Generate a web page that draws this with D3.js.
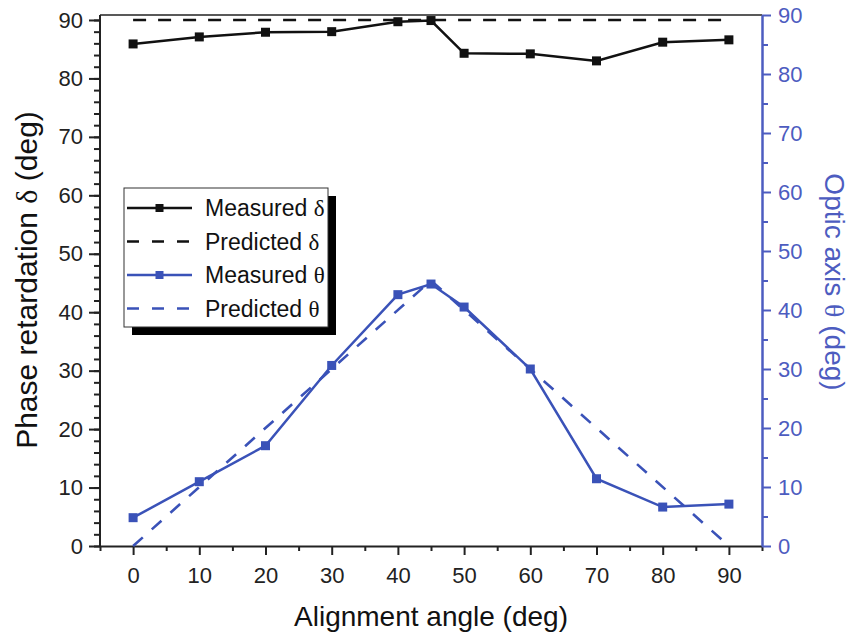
<!DOCTYPE html>
<html>
<head>
<meta charset="utf-8">
<script src="https://cdn.jsdelivr.net/npm/d3@7"></script>
<style>
  body { margin: 0; background: #fff; }
  text { font-family: "Liberation Sans", Arial, sans-serif; }
</style>
</head>
<body>
<script>
// data
const angles = [0, 10, 20, 30, 40, 45, 50, 60, 70, 80, 90];
const measuredDelta = [85.9, 87.1, 87.9, 88.0, 89.7, 89.9, 84.3, 84.2, 83.0, 86.2, 86.6];
const measuredTheta = [4.8, 10.9, 17.0, 30.6, 42.6, 44.4, 40.5, 30.0, 11.4, 6.6, 7.1];
const predDeltaAngles = [0, 90];
const predictedDelta = [90, 90];
const predThetaAngles = [0, 45, 90];
const predictedTheta = [0, 45, 0];
const xTicks = [0, 10, 20, 30, 40, 50, 60, 70, 80, 90];
const yTicks = [0, 10, 20, 30, 40, 50, 60, 70, 80, 90];
const legendLabels = ["Measured δ", "Predicted δ", "Measured θ", "Predicted θ"];

var width = 851, height = 639;
var mLeft = 100, mRight = 762, mTop = 15, mBottom = 546;
var blue = "#3a52b8", axisBlue = "#4d5cc0";
var font = "'Liberation Sans', Arial, sans-serif";

var svg = d3.select("body").append("svg")
    .attr("width", width)
    .attr("height", height);

var x = d3.scaleLinear().domain([-5, 95]).range([mLeft, mRight]);
var yL = d3.scaleLinear().domain([0, 90.85]).range([mBottom, mTop]);
var yR = d3.scaleLinear().domain([0, 90]).range([mBottom, mTop]);

// frame top line
svg.append("line")
    .attr("x1", mLeft).attr("x2", mRight)
    .attr("y1", mTop).attr("y2", mTop)
    .attr("stroke", "#222").attr("stroke-width", 1.5);

// bottom axis: minor then major
svg.append("g")
    .attr("transform", "translate(0," + mBottom + ")")
    .call(d3.axisBottom(x).tickValues(d3.range(-5, 96, 10)).tickSize(5).tickFormat("").tickSizeOuter(0))
    .call(g => g.select(".domain").remove())
    .call(g => g.selectAll("line").attr("stroke", "#222").attr("stroke-width", 2));
var xAxis = svg.append("g")
    .attr("transform", "translate(0," + mBottom + ")")
    .call(d3.axisBottom(x).tickValues(xTicks).tickSize(9).tickSizeOuter(0).tickPadding(12));
xAxis.select(".domain").attr("stroke", "#222").attr("stroke-width", 2);
xAxis.selectAll("line").attr("stroke", "#222").attr("stroke-width", 2);
xAxis.selectAll("text").attr("font-size", 22).attr("fill", "#222").attr("font-family", font);

// left axis
svg.append("g")
    .attr("transform", "translate(" + mLeft + ",0)")
    .call(d3.axisLeft(yL).tickValues(d3.range(0, 91, 2)).tickSize(6).tickFormat("").tickSizeOuter(0))
    .call(g => g.select(".domain").remove())
    .call(g => g.selectAll("line").attr("stroke", "#222").attr("stroke-width", 2));
var yAxisL = svg.append("g")
    .attr("transform", "translate(" + mLeft + ",0)")
    .call(d3.axisLeft(yL).tickValues(yTicks).tickSize(11).tickSizeOuter(0).tickPadding(6));
yAxisL.select(".domain").attr("stroke", "#222").attr("stroke-width", 2)
    .attr("d", "M0," + mTop + "V" + mBottom);
yAxisL.selectAll("line").attr("stroke", "#222").attr("stroke-width", 2);
yAxisL.selectAll("text").attr("font-size", 22).attr("fill", "#222").attr("font-family", font);

// right axis (blue)
svg.append("g")
    .attr("transform", "translate(" + mRight + ",0)")
    .call(d3.axisRight(yR).tickValues(d3.range(5, 90, 10)).tickSize(6).tickFormat("").tickSizeOuter(0))
    .call(g => g.select(".domain").remove())
    .call(g => g.selectAll("line").attr("stroke", axisBlue).attr("stroke-width", 2));
var yAxisR = svg.append("g")
    .attr("transform", "translate(" + mRight + ",0)")
    .call(d3.axisRight(yR).tickValues(yTicks).tickSize(9).tickSizeOuter(0).tickPadding(7));
yAxisR.select(".domain").attr("stroke", axisBlue).attr("stroke-width", 2.5);
yAxisR.selectAll("line").attr("stroke", axisBlue).attr("stroke-width", 2);
yAxisR.selectAll("text").attr("font-size", 22).attr("fill", axisBlue).attr("font-family", font);

// axis titles
svg.append("text")
    .attr("x", 431).attr("y", 626)
    .attr("text-anchor", "middle")
    .attr("font-size", 28).attr("fill", "#111")
    .text("Alignment angle (deg)");

var tL = svg.append("text")
    .attr("transform", "translate(37,280) rotate(-90)")
    .attr("text-anchor", "middle")
    .attr("font-size", 30).attr("fill", "#111");
tL.append("tspan").text("Phase retardation ");
tL.append("tspan").attr("font-family", "'Liberation Serif', serif").text("δ");
tL.append("tspan").text(" (deg)");

var tR = svg.append("text")
    .attr("transform", "translate(825,282) rotate(90)")
    .attr("text-anchor", "middle")
    .attr("font-size", 28).attr("fill", axisBlue);
tR.append("tspan").text("Optic axis ");
tR.append("tspan").attr("font-family", "'Liberation Serif', serif").text("θ");
tR.append("tspan").text(" (deg)");

// data lines
var lineL = d3.line().x(d => x(d[0])).y(d => yL(d[1]));
var lineR = d3.line().x(d => x(d[0])).y(d => yR(d[1]));

svg.append("path")
    .attr("d", lineL(d3.zip(predDeltaAngles, predictedDelta)))
    .attr("fill", "none").attr("stroke", "#111").attr("stroke-width", 2.6)
    .attr("stroke-dasharray", "13,12");

svg.append("path")
    .attr("d", lineR(d3.zip(predThetaAngles, predictedTheta)))
    .attr("fill", "none").attr("stroke", blue).attr("stroke-width", 2.6)
    .attr("stroke-dasharray", "13,12");

svg.append("path")
    .attr("d", lineL(d3.zip(angles, measuredDelta)))
    .attr("fill", "none").attr("stroke", "#111").attr("stroke-width", 2.5);

svg.append("path")
    .attr("d", lineR(d3.zip(angles, measuredTheta)))
    .attr("fill", "none").attr("stroke", blue).attr("stroke-width", 2.5);

var ms = 9;
svg.selectAll(".mD").data(d3.zip(angles, measuredDelta)).enter().append("rect")
    .attr("x", d => x(d[0]) - ms / 2).attr("y", d => yL(d[1]) - ms / 2)
    .attr("width", ms).attr("height", ms).attr("fill", "#111");
svg.selectAll(".mT").data(d3.zip(angles, measuredTheta)).enter().append("rect")
    .attr("x", d => x(d[0]) - ms / 2).attr("y", d => yR(d[1]) - ms / 2)
    .attr("width", ms).attr("height", ms).attr("fill", blue);

// legend with drop shadow
var lg = svg.append("g").attr("transform", "translate(124,188)");
lg.append("rect").attr("x", 8).attr("y", 8).attr("width", 204).attr("height", 139).attr("fill", "#000");
lg.append("rect").attr("x", 0).attr("y", 0).attr("width", 204).attr("height", 139)
    .attr("fill", "#fff").attr("stroke", "#333").attr("stroke-width", 1);

var styles = [
  {c: "#111", dash: null, mark: true},
  {c: "#111", dash: "12,13", mark: false},
  {c: blue, dash: null, mark: true},
  {c: blue, dash: "12,13", mark: false}
];
legendLabels.forEach(function(lab, i) {
  var yy = 20 + i * 33.5;
  var s = styles[i];
  lg.append("line").attr("x1", 3).attr("x2", 68).attr("y1", yy).attr("y2", yy)
    .attr("stroke", s.c).attr("stroke-width", 2.5)
    .attr("stroke-dasharray", s.dash);
  if (s.mark) {
    lg.append("rect").attr("x", 35.5 - 4).attr("y", yy - 4).attr("width", 8).attr("height", 8).attr("fill", s.c);
  }
  var t = lg.append("text").attr("x", 81).attr("y", yy + 8).attr("font-size", 23).attr("fill", "#111");
  t.append("tspan").text(lab.slice(0, -1));
  t.append("tspan").attr("font-family", "'Liberation Serif', serif").text(lab.slice(-1));
});
</script>
</body>
</html>
